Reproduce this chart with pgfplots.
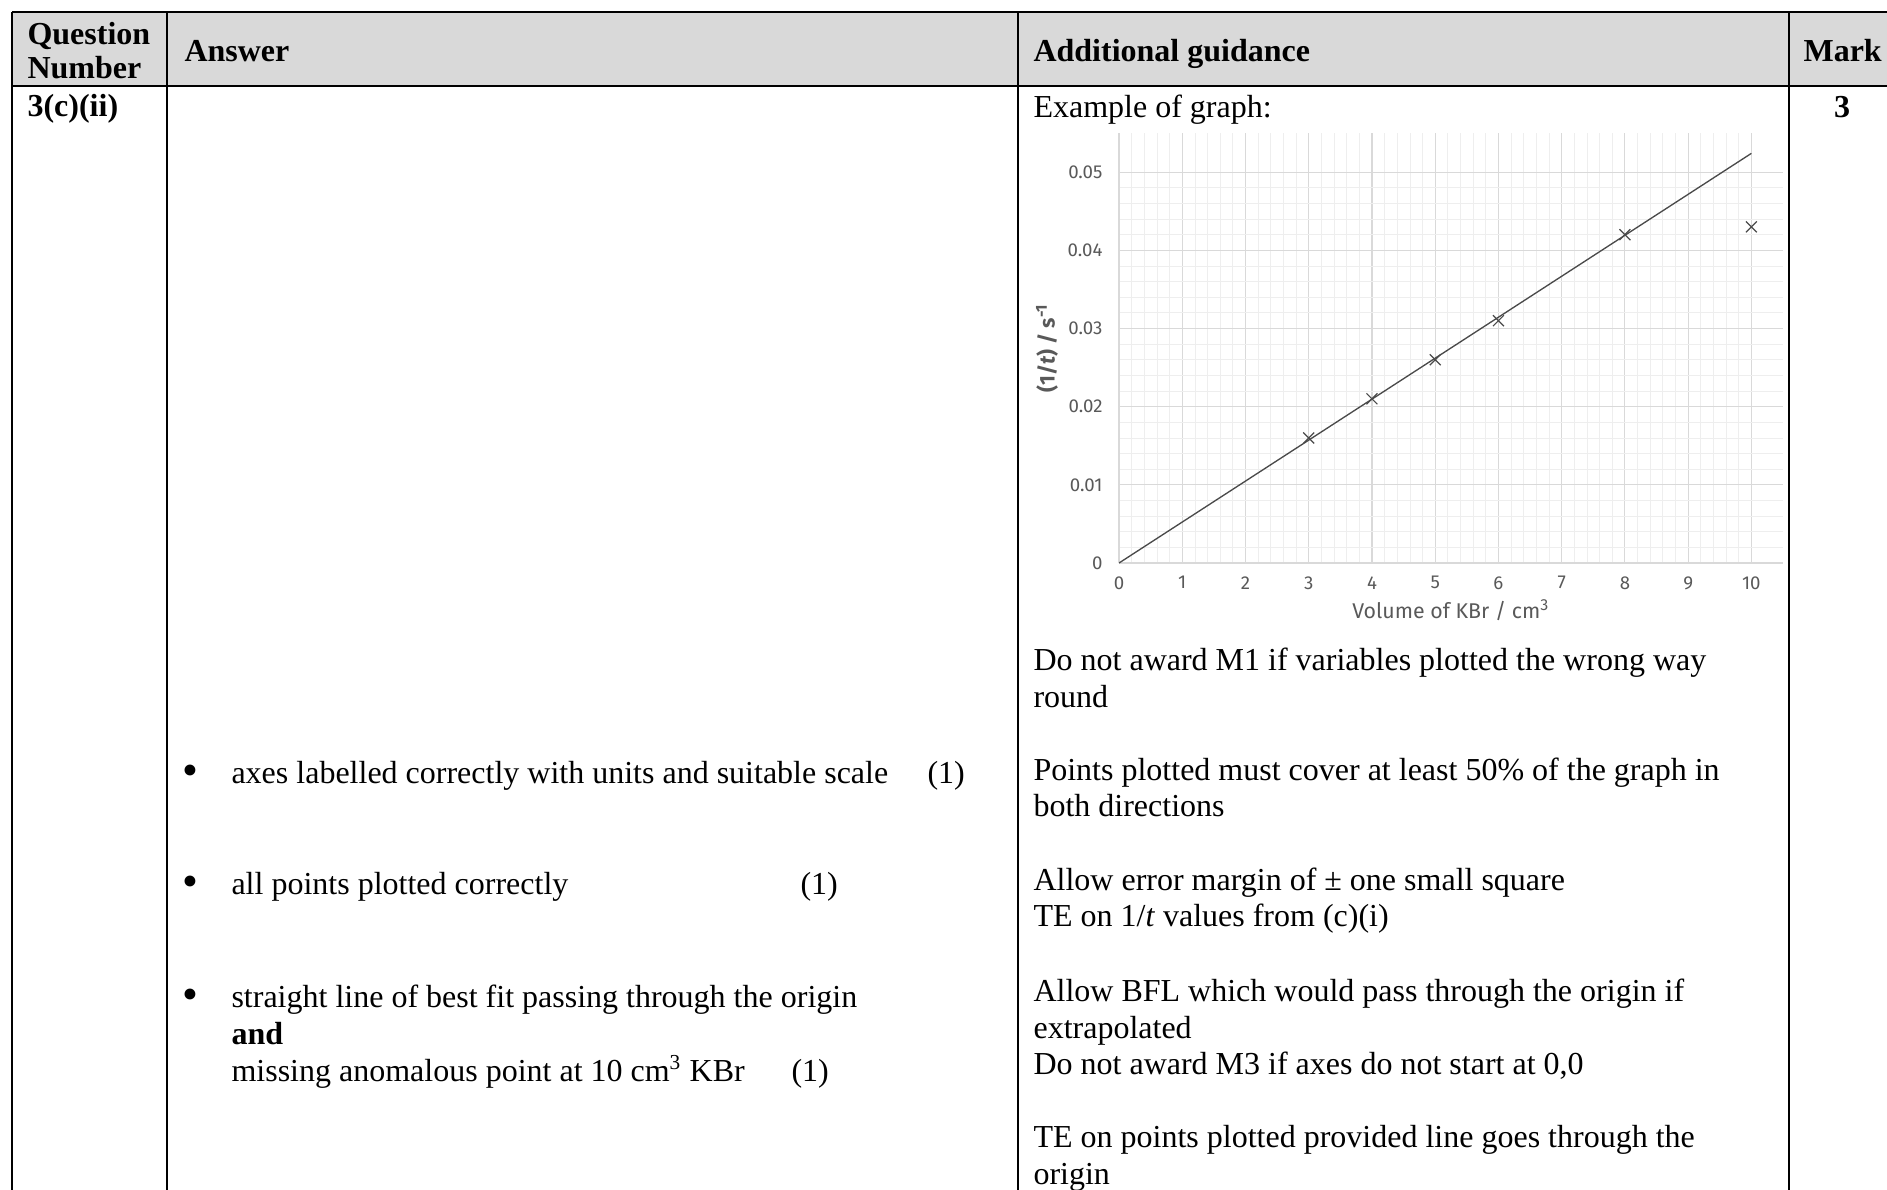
\documentclass[border=0pt]{standalone}
\usepackage{fontspec}
\setmainfont{Liberation Serif}
\newfontfamily\chartfont{Fira Sans}
\usepackage{pgfplots}
\pgfplotsset{compat=1.18}

\definecolor{headgray}{HTML}{D9D9D9}
\definecolor{gridmaj}{HTML}{D9D9D9}
\definecolor{gridmin}{HTML}{EEEEEE}
\definecolor{labgray}{HTML}{595959}
\definecolor{fitgray}{HTML}{4A4A4A}

% positions below are in pixels of the reference, 1px = 0.375pt
\newcommand\T[3]{\node at (#1*0.375pt,-#2*0.375pt) {#3};}
\newcommand\B[1]{\node[anchor=base] at (190*0.375pt,-#1*0.375pt)
  {\fontsize{17}{14}\selectfont •};}

\begin{document}
\begin{tikzpicture}
  \useasboundingbox (0,0) rectangle (707.625pt,-445.875pt);

  \begin{scope}[x=0.375pt, y=-0.375pt]
    % header band and rules
    \fill[headgray] (12,12) rectangle (1900,86);
    \draw[line width=1pt] (12,12) -- (1900,12);
    \draw[line width=1pt] (12,86) -- (1900,86);
    \foreach \cx in {12,167,1018,1789}
      \draw[line width=0.75pt] (\cx,12) -- (\cx,1200);
  \end{scope}

  \begin{scope}[every node/.style={anchor=base west, inner sep=0pt,
      font=\fontsize{12}{14}\selectfont}]
    % header
    \T{27}{44}{\textbf{Question}}
    \T{27}{78}{\textbf{Number}}
    \T{184}{61}{\textbf{Answer}}
    \T{1033}{61}{\textbf{Additional guidance}}
    \T{1803}{61}{\textbf{Mark}}
    % row
    \T{27}{116}{\textbf{3(c)(ii)}}
    \node[anchor=base] at (1842*0.375pt,-117*0.375pt) {\textbf{3}};
    \T{1033}{117}{Example of graph:}

    % answer column
    \B{785}
    \T{231}{783}{axes labelled correctly with units and suitable scale}
    \T{927}{783}{(1)}
    \B{896}
    \T{231}{894}{all points plotted correctly}
    \T{800}{894}{(1)}
    \B{1009}
    \T{231}{1007}{straight line of best fit passing through the origin}
    \T{231}{1044}{\textbf{and}}
    \T{231}{1081}{missing anomalous point at 10 cm\textsuperscript{3} KBr}
    \T{791}{1081}{(1)}

    % guidance column
    \T{1033}{670}{Do not award M1 if variables plotted the wrong way}
    \T{1033}{707}{round}
    \T{1033}{780}{Points plotted must cover at least 50\% of the graph in}
    \T{1033}{816}{both directions}
    \T{1033}{890}{Allow error margin of ± one small square}
    \T{1033}{926}{TE on 1/\textit{t} values from (c)(i)}
    \T{1033}{1001}{Allow BFL which would pass through the origin if}
    \T{1033}{1038}{extrapolated}
    \T{1033}{1074}{Do not award M3 if axes do not start at 0,0}
    \T{1033}{1147}{TE on points plotted provided line goes through the}
    \T{1033}{1184}{origin}
  \end{scope}

  \begin{axis}[
      at={(419.625pt,-211.125pt)}, anchor=south west,
      scale only axis, width=249pt, height=161.25pt,
      xmin=0, xmax=10.5, ymin=0, ymax=0.055,
      scaled x ticks=false, scaled y ticks=false,
      xtick={0,1,2,3,4,5,6,7,8,9,10},
      xticklabels={0,1,2,3,4,5,6,7,8,9,10},
      ytick={0,0.01,0.02,0.03,0.04,0.05},
      yticklabels={0,0.01,0.02,0.03,0.04,0.05},
      minor x tick num=4, minor y tick num=4,
      grid=both,
      major grid style={draw=gridmaj, line width=0.4pt},
      minor grid style={draw=gridmin, line width=0.3pt},
      axis x line*=bottom, axis y line*=left,
      axis line style={draw=gridmaj, line width=0.4pt},
      major tick length=0pt, minor tick length=0pt,
      tick label style={font=\chartfont\fontsize{7}{8}\selectfont,
        text=labgray, inner sep=0pt},
      xticklabel shift=4.8pt, yticklabel shift=6pt,
      xlabel={Volume of KBr / cm\textsuperscript{3}},
      ylabel={(1/\textit{t}) / s\textsuperscript{-1}},
      every axis x label/.style={at={(axis description cs:0.5,-0.1093)},
        anchor=center, font=\chartfont\fontsize{8}{9}\selectfont, text=labgray},
      every axis y label/.style={at={(axis description cs:-0.1084,0.5)},
        anchor=center, rotate=90,
        font=\chartfont\bfseries\fontsize{8}{9}\selectfont, text=labgray},
    ]
    \addplot[draw=fitgray, line width=0.5pt, mark=none]
      coordinates {(0,0) (10,0.0524)};
    \addplot[only marks, mark=x, mark size=2.9pt,
      mark options={draw=fitgray, line width=0.45pt}]
      coordinates {(3,0.016) (4,0.021) (5,0.026) (6,0.031) (8,0.042) (10,0.043)};
  \end{axis}
\end{tikzpicture}
\end{document}
